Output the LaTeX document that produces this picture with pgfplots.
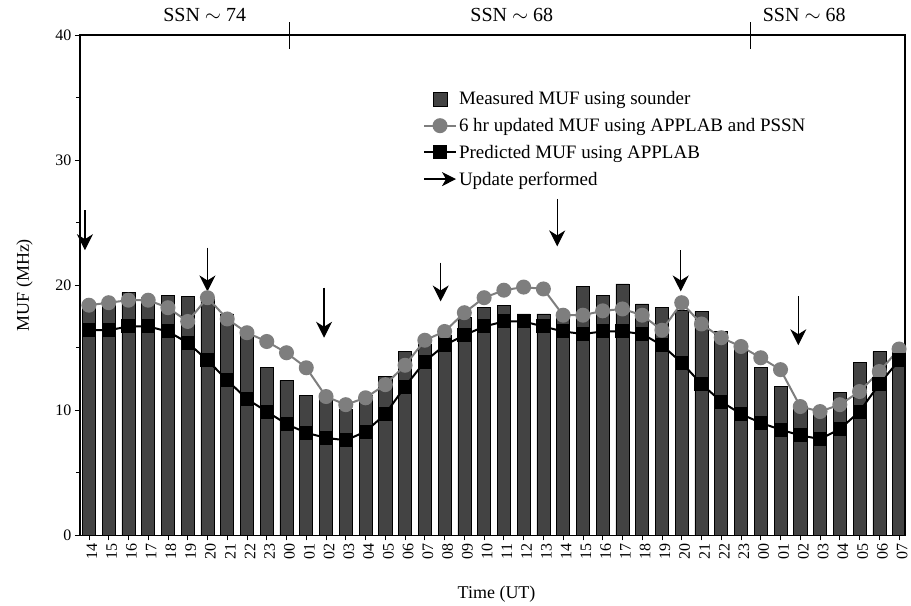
\documentclass[border=0pt]{standalone}
\usepackage{fontspec}
\setmainfont{Liberation Serif}
\usepackage{pgfplots}
\pgfplotsset{compat=1.18}
\usepackage{pgfplotstable}
\usetikzlibrary{arrows.meta}

\definecolor{barfill}{HTML}{434343}
\definecolor{updgray}{HTML}{7E7E7E}

\pgfplotsset{
  longline legend/.style={legend image code/.code={%
    \draw[mark repeat=2, mark phase=2, ##1] plot coordinates {(0pt,0pt) (16pt,0pt) (32pt,0pt)};}},
  square legend/.style={legend image code/.code={%
    \fill[barfill, draw=black] (9pt,-7pt) rectangle (23pt,7pt);}},
  arrow legend/.style={legend image code/.code={%
    \draw[black, line width=1.3pt, -{Stealth[length=14pt,width=14pt,inset=4pt]}] (0pt,0pt) -- (32pt,0pt);}},
}

% idx: 0 = 14 UT on day 1 ... 41 = 07 UT on day 3
\pgfplotstableread{
idx meas upd pred
0 18.3 18.4 16.4
1 18.4 18.6 16.4
2 19.4 18.8 16.7
3 19.0 18.8 16.7
4 19.2 18.2 16.3
5 19.1 17.1 15.4
6 19.0 19.0 14.0
7 17.7 17.3 12.4
8 16.3 16.2 10.9
9 13.4 15.5 9.9
10 12.4 14.6 8.9
11 11.2 13.4 8.2
12 10.9 11.1 7.8
13 10.1 10.45 7.6
14 11.2 11.0 8.3
15 12.7 12.05 9.7
16 14.7 13.6 11.9
17 15.3 15.6 13.9
18 16.0 16.3 15.2
19 17.4 17.8 16.0
20 18.2 19.0 16.7
21 18.4 19.6 17.1
22 17.7 19.85 17.1
23 17.7 19.7 16.7
24 17.4 17.6 16.3
25 19.9 17.6 16.1
26 19.2 17.95 16.3
27 20.1 18.1 16.3
28 18.5 17.6 16.1
29 18.2 16.4 15.2
30 18.0 18.6 13.8
31 17.9 16.9 12.1
32 16.3 15.8 10.7
33 15.2 15.1 9.7
34 13.4 14.2 9.0
35 11.9 13.25 8.45
36 10.3 10.3 8.0
37 10.05 9.9 7.7
38 11.4 10.45 8.5
39 13.8 11.5 9.9
40 14.7 13.1 12.1
41 14.6 14.9 14.0
}\mufdata

% update arrows: start point and vertical length
\pgfplotstableread{
x y v
-0.2 26.0 -3.2
6.0 23.0 -3.5
11.9 19.8 -4.0
17.8 21.8 -3.1
23.7 26.9 -3.8
29.95 22.8 -3.3
35.9 19.1 -3.9
}\updates

\begin{document}
\begin{tikzpicture}
\useasboundingbox (-80pt,-70pt) rectangle (832pt,536pt);
\begin{axis}[
  at={(0,0)}, anchor=south west,
  scale only axis, width=826pt, height=501pt,
  xmin=-0.455, xmax=41.3, ymin=0, ymax=40,
  clip=false,
  axis lines=box,
  xtick={0,...,41},
  xticklabels={14,15,16,17,18,19,20,21,22,23,00,01,02,03,04,05,06,07,08,09,10,11,12,13,14,15,16,17,18,19,20,21,22,23,00,01,02,03,04,05,06,07},
  x tick label style={rotate=90, anchor=east, yshift=-3pt},
  ytick={0,10,20,30,40}, minor ytick={5,15,25,35},
  xtick pos=lower, ytick pos=left, tick align=outside,
  major tick length=5pt, minor tick length=4pt,
  tick style={black, line width=0.8pt},
  axis line style={black, line width=1.2pt},
  /pgf/number format/assume math mode=true,
  tick label style={font=\fontsize{16}{18}\selectfont},
  label style={font=\fontsize{18}{20}\selectfont},
  xlabel={Time (UT)},
  ylabel={MUF (MHz)},
  xlabel style={at={(axis description cs:0.505,-0.095)}, anchor=north},
  ylabel style={at={(axis description cs:-0.053,0.5)}, anchor=south},
  legend style={at={(0.412,0.895)}, anchor=north west, draw=none, fill=none,
    font=\fontsize{19}{21}\selectfont, row sep=8pt},
  legend cell align=left,
]
\addplot[ybar, bar width=0.66, fill=barfill, draw=black, line width=0.6pt, square legend]
  table[x=idx, y=meas]{\mufdata};
\addlegendentry{Measured MUF using sounder}

\addplot[updgray, line width=2pt, mark=*, mark size=6.5pt,
  mark options={fill=updgray, draw=updgray}, longline legend]
  table[x=idx, y=upd]{\mufdata};
\addlegendentry{6 hr updated MUF using APPLAB and PSSN}

\addplot[black, line width=2pt, mark=square*, mark size=6pt, longline legend]
  table[x=idx, y=pred]{\mufdata};
\addlegendentry{Predicted MUF using APPLAB}

\addlegendimage{arrow legend}
\addlegendentry{Update performed}

\addplot[black, line width=1.2pt,
  quiver={u=0, v=\thisrow{v},
    every arrow/.append style={-{Stealth[length=16pt,width=16pt,inset=5pt]}}},
  forget plot]
  table[x=x, y=y]{\updates};

% top frame with SSN periods
\draw[black, line width=2.4pt] (rel axis cs:0,1) -- (rel axis cs:1,1);
\draw[black, line width=1.2pt] (rel axis cs:1,0) -- (rel axis cs:1,1);
\draw[line width=1pt] (axis cs:10.16,38.9) -- (axis cs:10.16,41.0);
\draw[line width=1pt] (axis cs:33.5,38.9) -- (axis cs:33.5,41.0);
\node[font=\fontsize{20}{22}\selectfont] at (axis cs:5.86,41.6) {SSN $\sim$ 74};
\node[font=\fontsize{20}{22}\selectfont] at (axis cs:21.4,41.6) {SSN $\sim$ 68};
\node[font=\fontsize{20}{22}\selectfont] at (axis cs:36.2,41.6) {SSN $\sim$ 68};
\end{axis}
\end{tikzpicture}
\end{document}
